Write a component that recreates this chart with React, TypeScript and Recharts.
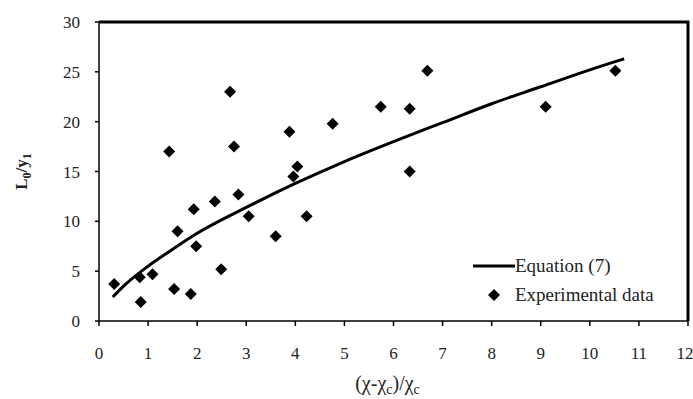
import React from 'react';
import { ComposedChart, XAxis, YAxis, Line, Scatter } from 'recharts';

const expX = [0.31, 0.83, 0.85, 1.09, 1.43, 1.53, 1.6, 1.87, 1.93, 1.98, 2.36, 2.49, 2.67, 2.75, 2.84, 3.05, 3.6, 3.88, 3.96, 4.04, 4.23, 4.76, 5.74, 6.33, 6.33, 6.69, 9.1, 10.52];
const expY = [3.7, 4.4, 1.9, 4.7, 17.0, 3.2, 9.0, 2.7, 11.2, 7.5, 12.0, 5.2, 23.0, 17.5, 12.7, 10.5, 8.5, 19.0, 14.5, 15.5, 10.5, 19.8, 21.5, 21.3, 15.0, 25.1, 21.5, 25.1];

const eqX = [0.28, 0.5, 1, 1.5, 2, 3, 4, 5, 6, 7, 8, 9, 10, 10.7];
const eqY = [2.4, 3.5, 5.5, 7.2, 8.8, 11.4, 13.8, 16.0, 18.0, 19.9, 21.8, 23.5, 25.2, 26.3];

const xTicks = [0, 1, 2, 3, 4, 5, 6, 7, 8, 9, 10, 11, 12];
const yTicks = [0, 5, 10, 15, 20, 25, 30];

// top and right edges of the plot box (x 0..12, y 0..30)
const frameX = [0, 12, 12];
const frameY = [30, 30, 0];

const expData = expX.map((x, i) => ({ x, y: expY[i] }));
const eqData = eqX.map((x, i) => ({ x, y: eqY[i] }));
const frameData = frameX.map((x, i) => ({ x, edge: frameY[i] }));

const FONT = '"Liberation Serif", "Times New Roman", serif';
const INK = '#222';

const Diamond = (props: any) => {
  const { cx, cy } = props;
  const r = 6;
  return <polygon points={`${cx},${cy - r} ${cx + r},${cy} ${cx},${cy + r} ${cx - r},${cy}`} fill="#000" />;
};

const XTick = ({ x, y, payload }: any) => (
  <text x={x} y={y + 17} textAnchor="middle" style={{ fontFamily: FONT, fontSize: 17 }} fill={INK}>
    {payload.value}
  </text>
);

const YTick = ({ x, y, payload }: any) => (
  <text x={x} y={y + 6} textAnchor="end" style={{ fontFamily: FONT, fontSize: 17 }} fill={INK}>
    {payload.value}
  </text>
);

const LegendBox = () => (
  <div style={{ position: 'absolute', left: 473, top: 251, fontFamily: FONT, fontSize: 19, color: INK, lineHeight: '29px' }}>
    <div style={{ display: 'flex', alignItems: 'center' }}>
      <svg width={42} height={10}><line x1={0} y1={5} x2={42} y2={5} stroke="#000" strokeWidth={3} /></svg>
      <span>Equation (7)</span>
    </div>
    <div style={{ display: 'flex', alignItems: 'center' }}>
      <svg width={42} height={14}><polygon points="21,1 27,7 21,13 15,7" fill="#000" /></svg>
      <span>Experimental data</span>
    </div>
  </div>
);

export default function App() {
  return (
    <div style={{ position: 'absolute', left: 0, top: 0, width: 693, height: 399, background: '#fff', fontFamily: FONT }}>
      <ComposedChart width={693} height={399} margin={{ top: 22, right: 5, bottom: 48, left: 99 - 60 }}>
        <XAxis
          dataKey="x"
          type="number"
          domain={[0, 12]}
          ticks={xTicks}
          tickSize={5}
          tickMargin={16}
          stroke="#000"
          strokeWidth={1.5}
          tick={<XTick />}
          label={({ viewBox }: any) => (
            <text x={viewBox.x + viewBox.width / 2 - 6} y={viewBox.y + 69} textAnchor="middle" style={{ fontFamily: FONT, fontSize: 20 }} fill={INK}>
              (χ-χ<tspan fontSize={14} dy={4}>c</tspan><tspan dy={-4}>)/χ</tspan><tspan fontSize={14} dy={4}>c</tspan>
            </text>
          )}
        />
        <YAxis
          type="number"
          domain={[0, 30]}
          ticks={yTicks}
          width={60}
          tickSize={4}
          tickMargin={15}
          stroke="#000"
          strokeWidth={1.5}
          tick={<YTick />}
          label={({ viewBox }: any) => (
            <text
              x={27}
              y={viewBox.y + viewBox.height / 2}
              transform={`rotate(-90, 27, ${viewBox.y + viewBox.height / 2})`}
              textAnchor="middle"
              style={{ fontFamily: FONT, fontSize: 17, fontWeight: 'bold' }}
              fill={INK}
            >
              L<tspan fontSize={12} dy={4}>0</tspan><tspan dy={-4}>/y</tspan><tspan fontSize={12} dy={4}>1</tspan>
            </text>
          )}
        />
        <Line data={frameData} dataKey="edge" type="linear" stroke="#000" strokeWidth={3} dot={false} activeDot={false} isAnimationActive={false} />
        <Line data={eqData} dataKey="y" type="monotone" stroke="#000" strokeWidth={3} dot={false} isAnimationActive={false} />
        <Scatter data={expData} dataKey="y" shape={<Diamond />} isAnimationActive={false} />
      </ComposedChart>
      <LegendBox />
    </div>
  );
}
